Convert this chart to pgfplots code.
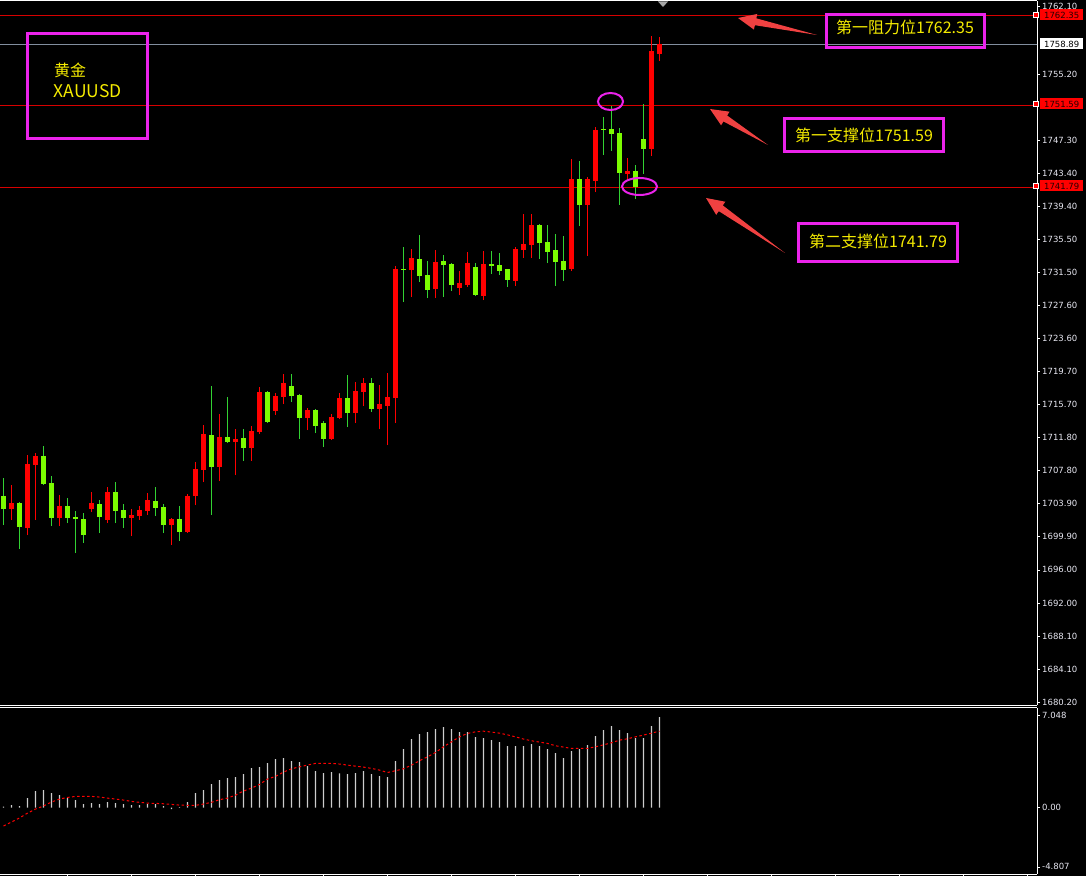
\documentclass[border=0pt]{standalone}
\usepackage{pgfplots}
\pgfplotsset{compat=1.18}
\usepackage{pgfplotstable}
\usepackage{fontspec}
\setmainfont{DejaVu Sans}
\newfontfamily\cjk{Noto Sans CJK SC}
\usetikzlibrary{calc}

\definecolor{cred}{RGB}{255,0,0}
\definecolor{cgreenb}{RGB}{124,252,0}
\definecolor{cgreenw}{RGB}{50,210,50}
\definecolor{lvlred}{RGB}{215,0,0}
\definecolor{lvlgray}{RGB}{130,142,158}
\definecolor{mag}{RGB}{235,35,235}
\definecolor{ytext}{RGB}{245,235,0}
\definecolor{arr}{RGB}{240,65,65}
\definecolor{tlab}{RGB}{232,232,242}
\definecolor{histgray}{RGB}{205,205,205}

% red candles: k high low bodytop bodybottom
\pgfplotstableread{
k h l bt bb
1 1706.15 1701.97 1704.00 1703.28
3 1709.74 1700.17 1708.70 1701.01
4 1709.98 1701.97 1709.66 1708.55
7 1704.96 1701.25 1703.64 1702.21
11 1705.32 1702.92 1704.00 1703.28
13 1705.92 1701.61 1705.32 1701.97
16 1703.28 1700.05 1702.57 1702.21
17 1703.64 1701.97 1703.16 1702.45
18 1705.20 1702.57 1704.36 1703.04
21 1702.21 1698.98 1702.09 1701.37
23 1705.08 1700.45 1704.84 1700.53
24 1708.91 1703.76 1708.07 1704.84
25 1713.33 1706.51 1712.25 1707.95
27 1714.65 1706.63 1711.90 1708.31
29 1712.85 1707.35 1711.66 1711.30
31 1713.21 1709.03 1712.61 1710.62
32 1717.88 1712.25 1717.28 1712.49
34 1717.16 1714.53 1716.80 1715.01
35 1719.43 1715.84 1718.36 1716.68
38 1715.37 1712.73 1715.13 1714.17
41 1714.65 1711.54 1714.29 1711.66
42 1717.16 1714.05 1716.56 1714.17
44 1718.48 1713.57 1717.40 1714.77
45 1718.95 1715.60 1718.36 1717.28
47 1718.12 1712.85 1715.84 1715.25
48 1719.55 1710.94 1716.68 1715.60
49 1732.35 1713.57 1731.99 1716.56
51 1734.38 1728.64 1733.31 1731.87
54 1734.26 1728.52 1732.83 1729.60
57 1731.75 1728.88 1730.32 1729.72
58 1734.03 1729.84 1732.71 1730.08
60 1734.15 1728.28 1732.59 1728.76
64 1734.62 1729.96 1734.38 1730.56
65 1738.57 1733.31 1734.98 1734.26
66 1738.60 1733.31 1737.26 1734.86
71 1745.15 1731.75 1742.76 1731.99
73 1743.00 1733.55 1742.76 1739.65
74 1748.98 1741.20 1748.62 1742.52
78 1745.27 1742.64 1743.71 1743.36
81 1759.86 1745.51 1758.07 1746.35
82 1759.74 1756.87 1758.91 1757.71
}\redtab

% green candles: k high low bodytop bodybottom
\pgfplotstableread{
k h l bt bb
0 1706.99 1701.37 1704.84 1703.28
2 1704.16 1698.50 1704.00 1701.13
5 1710.82 1706.15 1709.62 1706.27
6 1707.23 1701.25 1706.39 1702.21
8 1704.60 1701.61 1703.64 1702.21
9 1703.04 1698.02 1702.33 1702.09
10 1702.80 1699.22 1702.09 1700.17
12 1704.36 1700.41 1703.88 1702.33
14 1706.51 1701.61 1705.32 1703.04
15 1703.88 1701.01 1703.16 1702.21
19 1705.92 1702.45 1704.24 1703.40
20 1703.88 1700.41 1703.52 1701.37
22 1703.64 1699.46 1702.09 1700.53
26 1718.00 1702.57 1712.14 1708.31
28 1716.68 1711.18 1711.90 1711.33
30 1712.85 1709.03 1711.78 1710.62
33 1717.40 1713.60 1717.28 1713.69
36 1719.43 1716.08 1718.00 1716.84
37 1717.00 1711.66 1716.92 1714.21
39 1715.20 1712.37 1715.13 1713.21
40 1713.81 1710.70 1713.57 1711.66
43 1719.31 1713.09 1716.56 1714.77
46 1718.95 1714.89 1718.36 1715.25
50 1734.62 1728.04 1731.99 1731.87
52 1736.06 1730.44 1733.19 1731.15
53 1732.95 1728.52 1731.27 1729.48
55 1733.67 1728.64 1732.95 1732.47
56 1732.67 1729.36 1732.59 1730.08
59 1732.67 1728.76 1732.23 1728.88
61 1734.15 1731.39 1732.59 1732.35
62 1733.91 1731.27 1732.47 1731.75
63 1732.05 1729.84 1731.99 1730.68
67 1737.40 1733.19 1737.26 1735.10
68 1737.26 1732.71 1735.22 1734.03
69 1736.18 1729.96 1734.26 1732.83
70 1735.94 1730.56 1732.95 1731.87
72 1744.91 1737.14 1742.76 1739.65
75 1750.17 1745.63 1748.74 1748.62
76 1751.49 1746.11 1748.74 1748.18
77 1748.80 1739.65 1748.26 1743.51
79 1744.43 1740.37 1743.71 1741.80
80 1751.73 1743.36 1747.54 1746.38
}\greentab

% oscillator: k histogram signal
\pgfplotstableread{
k v s
0 0.08 -1.39
1 0.20 -1.09
2 0.13 -0.78
3 0.73 -0.41
4 1.27 -0.10
5 1.34 0.13
6 1.11 0.43
7 0.96 0.66
8 0.73 0.78
9 0.58 0.86
10 0.28 0.86
11 0.35 0.86
12 0.28 0.81
13 0.43 0.73
14 0.35 0.66
15 0.28 0.58
16 0.20 0.48
17 0.20 0.41
18 0.28 0.35
19 0.28 0.33
20 0.13 0.30
21 -0.10 0.25
22 0.05 0.20
23 0.43 0.18
24 1.11 0.18
25 1.34 0.28
26 1.80 0.41
27 2.10 0.61
28 2.25 0.73
29 2.33 0.96
30 2.56 1.27
31 3.01 1.49
32 3.09 1.77
33 3.39 2.18
34 3.70 2.38
35 3.77 2.71
36 3.54 2.96
37 3.47 3.11
38 3.16 3.24
39 2.78 3.37
40 2.63 3.37
41 2.71 3.37
42 2.61 3.32
43 2.56 3.24
44 2.63 3.16
45 2.78 3.09
46 2.56 2.99
47 2.41 2.86
48 2.33 2.68
49 3.54 2.81
50 4.46 2.96
51 5.22 3.24
52 5.59 3.57
53 5.75 3.87
54 5.97 4.20
55 6.13 4.63
56 5.97 5.01
57 5.75 5.39
58 5.75 5.65
59 5.37 5.77
60 5.29 5.82
61 5.14 5.75
62 4.99 5.67
63 4.68 5.54
64 4.68 5.39
65 4.68 5.22
66 4.84 5.09
67 4.68 4.99
68 4.46 4.89
69 4.15 4.71
70 3.77 4.61
71 4.30 4.51
72 4.46 4.51
73 4.76 4.51
74 5.44 4.63
75 5.90 4.78
76 6.20 4.94
77 5.90 5.14
78 5.67 5.24
79 5.29 5.39
80 5.29 5.52
81 6.20 5.67
82 6.89 5.82
}\osctab

\newcommand{\taparrow}[2]{%
  \coordinate (T) at #1; \coordinate (S) at #2;
  \coordinate (H) at ($(T)!18pt!(S)$);
  \fill[arr] (S) -- ($(H)!3.5pt!90:(T)$) -- ($(H)!8pt!90:(T)$) -- (T)
     -- ($(H)!8pt!-90:(T)$) -- ($(H)!3.5pt!-90:(T)$) -- cycle;
}

\begin{document}
\begin{tikzpicture}
\fill[black] (0,0) rectangle (1086pt,876pt);

% ---------------- price panel ----------------
\begin{axis}[
  at={(0pt,171pt)}, anchor=south west,
  width=1037pt, height=704pt, scale only axis,
  xmin=-0.4375, xmax=129.1875,
  ymin=1679.84, ymax=1764.05,
  axis x line*=box, axis y line*=right,
  axis line style={white, line width=1pt},
  xtick=\empty,
  ytick={1680.2,1684.15,1688.1,1692.05,1696.0,1699.95,1703.9,1707.85,1711.8,1715.75,1719.7,1723.65,1727.6,1731.55,1735.5,1739.45,1743.4,1747.35,1755.25,1763.45},
  yticklabels={1680.20,1684.10,1688.10,1692.00,1696.00,1699.90,1703.90,1707.80,1711.80,1715.70,1719.70,1723.60,1727.60,1731.50,1735.50,1739.40,1743.40,1747.30,1755.20,1762.10},
  tick align=outside, major tick length=3pt,
  tick style={white, line width=0.8pt},
  yticklabel style={font=\fontsize{8.5}{8.5}\selectfont, text=tlab, anchor=west, inner sep=0pt, xshift=2pt},
]
% level lines
\addplot[lvlred, line width=1pt] coordinates {(-1,1762.35) (130,1762.35)};
\addplot[lvlgray, line width=1pt] coordinates {(-1,1758.89) (130,1758.89)};
\addplot[lvlred, line width=1pt] coordinates {(-1,1751.59) (130,1751.59)};
\addplot[lvlred, line width=1pt] coordinates {(-1,1741.79) (130,1741.79)};

% wicks
\addplot[draw=none, mark=none, error bars/.cd, y dir=plus, y explicit, error mark=none,
  error bar style={draw=cred, line width=1pt}]
  table[x=k, y=l, y error plus expr=\thisrow{h}-\thisrow{l}] {\redtab};
\addplot[draw=none, mark=none, error bars/.cd, y dir=plus, y explicit, error mark=none,
  error bar style={draw=cgreenw, line width=1pt}]
  table[x=k, y=l, y error plus expr=\thisrow{h}-\thisrow{l}] {\greentab};
% bodies
\addplot[draw=none, mark=none, error bars/.cd, y dir=plus, y explicit, error mark=none,
  error bar style={draw=cred, line width=5pt}]
  table[x=k, y=bb, y error plus expr=\thisrow{bt}-\thisrow{bb}] {\redtab};
\addplot[draw=none, mark=none, error bars/.cd, y dir=plus, y explicit, error mark=none,
  error bar style={draw=cgreenb, line width=5pt}]
  table[x=k, y=bb, y error plus expr=\thisrow{bt}-\thisrow{bb}] {\greentab};
\end{axis}

% ---------------- oscillator panel ----------------
\begin{axis}[
  at={(0pt,2pt)}, anchor=south west,
  width=1037pt, height=166.5pt, scale only axis,
  xmin=-0.4375, xmax=129.1875,
  ymin=-5.04, ymax=7.62,
  axis x line*=box, axis y line*=right,
  axis line style={white, line width=1pt},
  xtick={7.9375,15.9375,23.9375,31.9375,39.9375,47.9375,55.9375,63.9375,71.9375,79.9375,87.9375,95.9375,103.9375,111.9375,119.9375,127.9375},
  xticklabels={}, xtick pos=lower,
  ytick={7.05,0,-4.5},
  yticklabels={7.048,0.00,-4.807},
  tick align=outside, major tick length=3pt,
  tick style={white, line width=0.8pt},
  yticklabel style={font=\fontsize{8.5}{8.5}\selectfont, text=tlab, anchor=west, inner sep=0pt, xshift=2pt},
]
\addplot[ybar, bar width=1.2pt, fill=histgray, draw=none] table[x=k, y=v] {\osctab};
\addplot[cred, line width=1pt, dash pattern=on 2.5pt off 2.5pt] table[x=k, y=s] {\osctab};
\end{axis}

% ---------------- annotations (pixel coordinates) ----------------
\begin{scope}[x=1pt, y=-1pt, yshift=876pt]
  % shift marker
  \fill[gray!70] (658,1.5) -- (668,1.5) -- (663,7) -- cycle;
  % small markers on frame
  \foreach \yy in {15,104,186} {\draw[white, fill=red, line width=0.6pt] (1033,\yy-2.5) rectangle (1038,\yy+2.5);}
  % price boxes
  \node[fill=cred, text=black!85!red, font=\fontsize{8.5}{8.5}\selectfont, inner sep=0pt, minimum width=43pt, minimum height=11pt, anchor=west] at (1040,15) {1762.35};
  \node[fill=white, text=black, font=\fontsize{8.5}{8.5}\selectfont, inner sep=0pt, minimum width=43pt, minimum height=11pt, anchor=west] at (1040,44) {1758.89};
  \node[fill=cred, text=black!85!red, font=\fontsize{8.5}{8.5}\selectfont, inner sep=0pt, minimum width=43pt, minimum height=11pt, anchor=west] at (1040,104) {1751.59};
  \node[fill=cred, text=black!85!red, font=\fontsize{8.5}{8.5}\selectfont, inner sep=0pt, minimum width=43pt, minimum height=11pt, anchor=west] at (1040,186) {1741.79};

  % title box
  \draw[mag, line width=3pt] (27.5,33.5) rectangle (147.5,138.5);
  \node[anchor=base west, inner sep=0pt, text=ytext, font=\cjk\fontsize{16}{16}\selectfont] at (54,76.5) {黄金};
  \node[anchor=base west, inner sep=0pt, text=ytext, font=\cjk\fontsize{17.5}{17.5}\selectfont] at (53.5,98) {XAUUSD};

  % annotation boxes
  \draw[mag, line width=3pt] (826.5,14.5) rectangle (984.5,47.5);
  \node[anchor=base west, inner sep=0pt, text=ytext, font=\cjk\fontsize{16}{16}\selectfont] at (836,33.5) {第一阻力位1762.35};
  \draw[mag, line width=3pt] (784.5,118.5) rectangle (943.5,151.5);
  \node[anchor=base west, inner sep=0pt, text=ytext, font=\cjk\fontsize{16}{16}\selectfont] at (795,142) {第一支撑位1751.59};
  \draw[mag, line width=3pt] (798.5,223.5) rectangle (957.5,261.5);
  \node[anchor=base west, inner sep=0pt, text=ytext, font=\cjk\fontsize{16}{16}\selectfont] at (809,247.5) {第二支撑位1741.79};

  % arrows
  \taparrow{(738,18)}{(817,35)}
  \taparrow{(710,109)}{(768,145)}
  \taparrow{(706,198)}{(785,253)}

  % ellipses
  \draw[mag, line width=2pt] (610.5,101.5) ellipse (12.5pt and 8.5pt);
  \draw[mag, line width=2pt] (639.5,186.5) ellipse (17.5pt and 8.5pt);
\end{scope}

\pgfresetboundingbox
\path (0,0) rectangle (1086pt,876pt);
\end{tikzpicture}
\end{document}
